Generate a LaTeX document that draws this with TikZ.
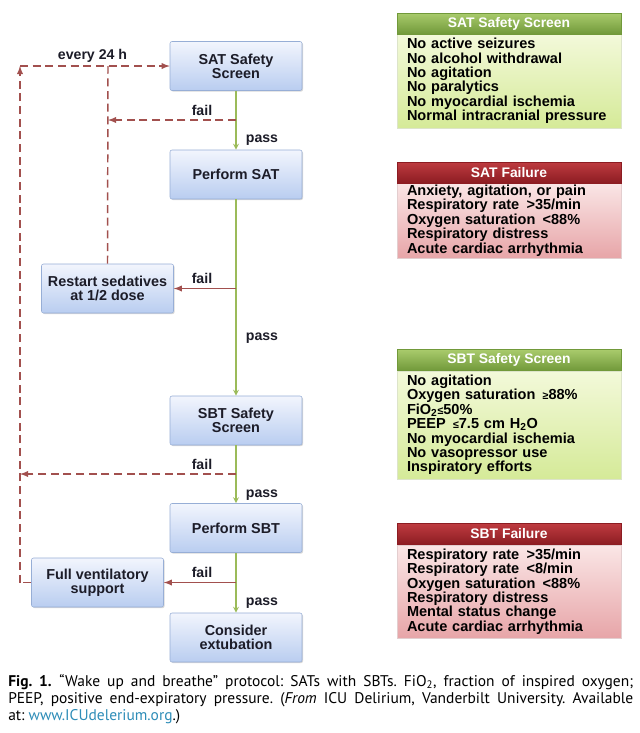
\documentclass[tikz,border=0pt]{standalone}
\usepackage{fontspec}
\setmainfont{Liberation Sans}
\newfontfamily\capfont{PT Sans}
\usetikzlibrary{shapes,arrows,positioning,shadows}
\definecolor{inkcol}{HTML}{1C1C28}
\definecolor{boxline}{HTML}{97AED6}
\definecolor{bluetop}{HTML}{F2F5FD}
\definecolor{bluebot}{HTML}{B9CDF0}
\definecolor{gheadtop}{HTML}{A9CB6C}
\definecolor{gheadbot}{HTML}{71993A}
\definecolor{gbodytop}{HTML}{F3F9DA}
\definecolor{gbodybot}{HTML}{D5EA98}
\definecolor{rheadtop}{HTML}{BE3B40}
\definecolor{rheadbot}{HTML}{8C1C22}
\definecolor{rbodytop}{HTML}{FAE6E6}
\definecolor{rbodybot}{HTML}{E7A5A8}
\definecolor{passcol}{HTML}{9BBB59}
\definecolor{failcol}{HTML}{A2504E}
\definecolor{urlcol}{HTML}{2E8DB8}
\tikzstyle{bnode} = [rectangle, draw=boxline, rounded corners=1.5pt, top color=bluetop, bottom color=bluebot, minimum width=99pt, minimum height=36.75pt, inner sep=1pt, align=center, text=inkcol, font=\fontsize{10.8}{10.6}\selectfont\bfseries, drop shadow={shadow xshift=0.8pt, shadow yshift=-0.8pt, opacity=0.3}]
\tikzstyle{ghead} = [rectangle, draw=gheadbot, top color=gheadtop, bottom color=gheadbot, minimum width=168pt, minimum height=15.75pt, inner sep=0pt, text=white, font=\fontsize{10.4}{10.4}\selectfont\bfseries]
\tikzstyle{rhead} = [ghead, draw=rheadbot, top color=rheadtop, bottom color=rheadbot]
\tikzstyle{gbody} = [rectangle, draw=gbodybot!80!black!40, top color=gbodytop, bottom color=gbodybot, text width=153pt, inner xsep=7.5pt, inner ysep=0pt, align=left, text=black, font=\fontsize{10.9}{10.8}\selectfont\bfseries, drop shadow={shadow xshift=0.8pt, shadow yshift=-0.8pt, opacity=0.3}]
\tikzstyle{rbody} = [gbody, draw=rbodybot!80!black!40, top color=rbodytop, bottom color=rbodybot]
\tikzstyle{lab} = [inner sep=0pt, text=inkcol, font=\fontsize{10.6}{10.6}\selectfont\bfseries]
\tikzstyle{pline} = [draw=passcol, line width=1pt, -stealth]
\tikzstyle{fline} = [draw=failcol, line width=1.1pt]
\tikzstyle{dline} = [fline, dash pattern=on 6pt off 3.5pt]

\begin{document}
\begin{tikzpicture}[x=0.75pt, y=-0.75pt]
			\useasboundingbox [fill=white] (0,0) rectangle (640,733);

			\node [bnode] (sat) at (236, 66) {SAT Safety\\Screen};
			\node [bnode] (psat) at (236, 174.5) {Perform SAT};
			\node [bnode] (restart) at (107.5, 288.5) {Restart sedatives\\at 1/2 dose};
			\node [bnode] (sbt) at (236, 420.5) {SBT Safety\\Screen};
			\node [bnode] (psbt) at (236, 528) {Perform SBT};
			\node [bnode] (fullvent) at (97.5, 582.5) {Full ventilatory\\support};
			\node [bnode] (extub) at (236, 637.5) {Consider\\extubation};

			\node [gbody, minimum height=70.5pt] (satlist) at (509, 81) {No active seizures\\No alcohol withdrawal\\No agitation\\No paralytics\\No myocardial ischemia\\Normal intracranial pressure};
			\node [ghead] (sathead) at (509, 23.5) {SAT Safety Screen};
			\node [rbody, minimum height=56.25pt] (satfail) at (509, 220.5) {Anxiety, agitation, or pain\\Respiratory rate\enspace>35/min\\Oxygen saturation\enspace<88\%\\Respiratory distress\\Acute cardiac arrhythmia};
			\node [rhead] (satfhead) at (509, 172.5) {SAT Failure};
			\node [gbody, minimum height=81pt] (sbtlist) at (509, 425) {No agitation\\Oxygen saturation\enspace{\footnotesize≥}88\%\\FiO\textsubscript{2}{\footnotesize≤}50\%\\PEEP\enspace{\footnotesize≤}7.5 cm H\textsubscript{2}O\\No myocardial ischemia\\No vasopressor use\\Inspiratory efforts};
			\node [ghead] (sbthead) at (509, 360) {SBT Safety Screen};
			\node [rbody, minimum height=69.75pt] (sbtfail) at (509, 591.5) {Respiratory rate\enspace>35/min\\Respiratory rate\enspace<8/min\\Oxygen saturation\enspace<88\%\\Respiratory distress\\Mental status change\\Acute cardiac arrhythmia};
			\node [rhead] (sbtfhead) at (509, 534) {SBT Failure};

			% pass / fail labels
			\node [lab] (every) at (92.5, 56) {every 24 h};
			\node [lab] (fail1) at (202, 110) {fail};
			\node [lab] (pass1) at (262, 140) {pass};
			\node [lab] (fail2) at (202, 278) {fail};
			\node [lab] (pass2) at (262, 338) {pass};
			\node [lab] (fail3) at (202, 464) {fail};
			\node [lab] (pass3) at (262, 495) {pass};
			\node [lab] (fail4) at (202, 572) {fail};
			\node [lab] (pass4) at (262, 603) {pass};

			\coordinate (f1) at (236, 120);
			\coordinate (j1) at (108, 120);
			\coordinate (f2) at (236, 288.5);
			\coordinate (f3) at (236, 474);
			\coordinate (j3) at (20, 474);
			\coordinate (f4) at (236, 582.5);
			\coordinate (c24) at (20, 66);
			\coordinate (j24) at (108, 66);
			\coordinate (cfv) at (20, 582.5);

			\path [pline] (sat) -- (psat);
			\path [pline] (psat) -- (sbt);
			\path [pline] (sbt) -- (psbt);
			\path [pline] (psbt) -- (extub);

			\path [dline, -latex] (f1) -- (j1);
			\path [dline] (restart.north) -- (j24);
			\path [dline] (fullvent.west) -- (cfv);
			\path [dline, -latex] (cfv) -- (c24);
			\path [dline, -latex] (c24) -- (sat.west);
			\path [dline, -latex] (f3) -- (j3);
			\path [fline, -latex] (f2) -- (restart.east);
			\path [fline, -latex] (f4) -- (fullvent.east);

			\node [anchor=north west, inner sep=0pt, text width=468.75pt, align=justify, text=black, font=\capfont\fontsize{11.6}{12.75}\selectfont\frenchspacing] (caption) at (8, 674) {\textbf{Fig. 1.}\enspace “Wake up and breathe” protocol: SATs with SBTs. FiO\textsubscript{2}, fraction of inspired oxygen;\linebreak PEEP, positive end-expiratory pressure. (\textit{From} ICU Delirium, Vanderbilt University. Available\linebreak at: \textcolor{urlcol}{www.ICUdelerium.org}.)};
		\end{tikzpicture}
\end{document}
